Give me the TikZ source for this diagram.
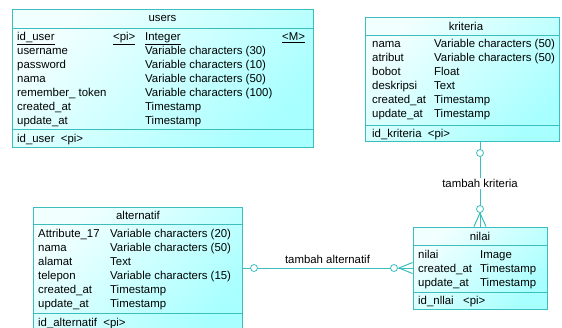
\documentclass[tikz,border=0pt]{standalone}
\usepackage{fontspec}
\setmainfont{Liberation Sans}
\usetikzlibrary{calc}
\definecolor{bord}{HTML}{3CBEBE}
\definecolor{lite}{HTML}{F2FFFF}
\definecolor{dark}{HTML}{A8FFFF}
\begin{document}
\begin{tikzpicture}[x=1pt,y=-1pt,
  entity/.style={draw=bord, line width=1pt, rectangle, inner sep=0pt,
    top color=lite, bottom color=dark, shading angle=45},
  txt/.style={anchor=base west, inner sep=0pt, font=\fontsize{11.4}{13}\selectfont},
  ttl/.style={anchor=base, inner sep=0pt, font=\fontsize{11.4}{13}\selectfont},
  sep/.style={draw=bord, line width=1pt},
  conn/.style={draw=bord, line width=1pt},
  circ/.style={draw=bord, line width=0.8pt, fill=white, circle, minimum size=7pt, inner sep=0pt},
  lbl/.style={inner sep=1pt, font=\fontsize{11.4}{13}\selectfont}]
\clip (0,0) rectangle (562,327);
\fill[white] (0,0) rectangle (562,327);
% ---------- users
\node[entity, minimum width=301pt, minimum height=138pt] (users) at (162.5,78) {};
\draw[sep] (12,28) -- (313,28);
\draw[sep] (12,129) -- (313,129);
\node[ttl] (ut) at (162.5,21.5) {users};
\node[txt] (u1a) at (17,40.5) {\underline{id\_user}};
\node[txt] (u1b) at (113,40.5) {\underline{<pi>}};
\node[txt] (u1c) at (145,40.5) {\underline{Integer}};
\node[txt] (u1d) at (282,40.5) {\underline{<M>}};
\node[txt] (u2a) at (17,54.5) {username};
\node[txt] (u2c) at (145,54.5) {Variable characters (30)};
\node[txt] (u3a) at (17,68.5) {password};
\node[txt] (u3c) at (145,68.5) {Variable characters (10)};
\node[txt] (u4a) at (17,82.5) {nama};
\node[txt] (u4c) at (145,82.5) {Variable characters (50)};
\node[txt] (u5a) at (17,96.5) {remember\_ token};
\node[txt] (u5c) at (145,96.5) {Variable characters (100)};
\node[txt] (u6a) at (17,110.5) {created\_at};
\node[txt] (u6c) at (145,110.5) {Timestamp};
\node[txt] (u7a) at (17,124.5) {update\_at};
\node[txt] (u7c) at (145,124.5) {Timestamp};
\node[txt] (uf) at (17,142.5) {id\_user \ <pi>};
% ---------- kriteria
\node[entity, minimum width=194pt, minimum height=124pt] (kriteria) at (462,79) {};
\draw[sep] (365,35) -- (559,35);
\draw[sep] (365,125) -- (559,125);
\node[ttl] (kt) at (466,30.5) {kriteria};
\node[txt] (k1a) at (372,47.5) {nama};
\node[txt] (k1c) at (434,47.5) {Variable characters (50)};
\node[txt] (k2a) at (372,61.5) {atribut};
\node[txt] (k2c) at (434,61.5) {Variable characters (50)};
\node[txt] (k3a) at (372,75.5) {bobot};
\node[txt] (k3c) at (434,75.5) {Float};
\node[txt] (k4a) at (372,89.5) {deskripsi};
\node[txt] (k4c) at (434,89.5) {Text};
\node[txt] (k5a) at (372,103.5) {created\_at};
\node[txt] (k5c) at (434,103.5) {Timestamp};
\node[txt] (k6a) at (372,117.5) {update\_at};
\node[txt] (k6c) at (434,117.5) {Timestamp};
\node[txt] (kf) at (372,137.5) {id\_kriteria \ <pi>};
% ---------- alternatif
\node[entity, minimum width=209pt, minimum height=130pt] (alternatif) at (137.5,272) {};
\draw[sep] (33,224) -- (242,224);
\draw[sep] (33,313) -- (242,313);
\node[ttl] (at) at (138,219.5) {alternatif};
\node[txt] (a1a) at (38,237.5) {Attribute\_17};
\node[txt] (a1c) at (110,237.5) {Variable characters (20)};
\node[txt] (a2a) at (38,251.5) {nama};
\node[txt] (a2c) at (110,251.5) {Variable characters (50)};
\node[txt] (a3a) at (38,265.5) {alamat};
\node[txt] (a3c) at (110,265.5) {Text};
\node[txt] (a4a) at (38,279.5) {telepon};
\node[txt] (a4c) at (110,279.5) {Variable characters (15)};
\node[txt] (a5a) at (38,293.5) {created\_at};
\node[txt] (a5c) at (110,293.5) {Timestamp};
\node[txt] (a6a) at (38,307.5) {update\_at};
\node[txt] (a6c) at (110,307.5) {Timestamp};
\node[txt] (af) at (38,326.5) {id\_alternatif \ <pi>};
% ---------- nilai
\node[entity, minimum width=134pt, minimum height=82pt] (nilai) at (480,268) {};
\draw[sep] (413,245) -- (547,245);
\draw[sep] (413,292) -- (547,292);
\node[ttl] (nt) at (480,240.5) {nilai};
\node[txt] (n1a) at (418,258.5) {nilai};
\node[txt] (n1c) at (480,258.5) {Image};
\node[txt] (n2a) at (418,272.5) {created\_at};
\node[txt] (n2c) at (480,272.5) {Timestamp};
\node[txt] (n3a) at (418,286.5) {update\_at};
\node[txt] (n3c) at (480,286.5) {Timestamp};
\node[txt] (nf) at (418,304.5) {id\_nllai \ \ <pi>};
% ---------- connector kriteria - nilai
\coordinate (kb) at (kriteria.south -| nilai.north);
\coordinate (kfoot) at (480,213);
\draw[conn] (kb) -- (nilai.north);
\draw[conn] (kfoot) -- ($(nilai.north)+(-6,0)$);
\draw[conn] (kfoot) -- ($(nilai.north)+(6,0)$);
\node[circ] (kc1) at (480,153) {};
\node[circ] (kc2) at (480,209) {};
\node[lbl, fill=white] (kl) at (480,183.5) {tambah kriteria};
% ---------- connector alternatif - nilai
\coordinate (ae) at (nilai.west -| alternatif.east);
\coordinate (afoot) at (399,268);
\draw[conn] (ae) -- (nilai.west);
\draw[conn] (afoot) -- ($(nilai.west)+(0,-5.5)$);
\draw[conn] (afoot) -- ($(nilai.west)+(0,5.5)$);
\node[circ] (ac1) at (254,268) {};
\node[circ] (ac2) at (394,268) {};
\node[lbl] (al) at (327.5,259) {tambah alternatif};
\end{tikzpicture}
\end{document}
